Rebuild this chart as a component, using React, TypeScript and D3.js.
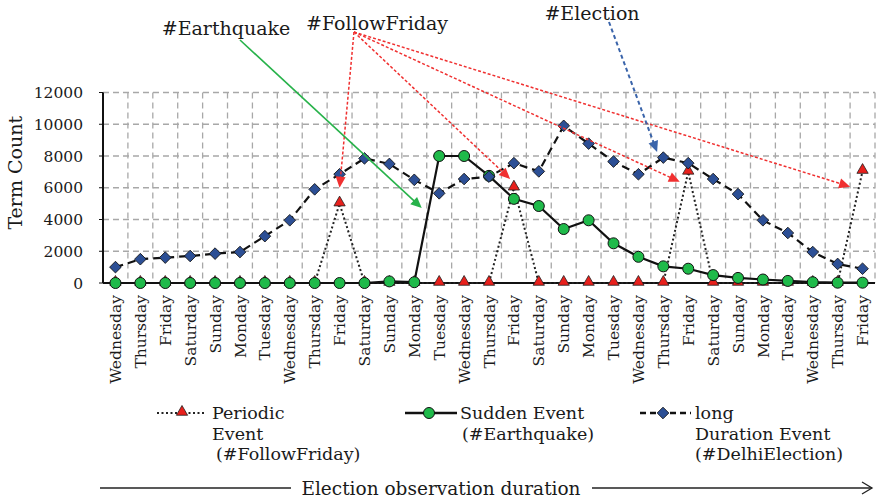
import React from "react";
import * as d3 from "d3";

const days = [
  "Wednesday", "Thursday", "Friday", "Saturday", "Sunday", "Monday", "Tuesday",
  "Wednesday", "Thursday", "Friday", "Saturday", "Sunday", "Monday", "Tuesday",
  "Wednesday", "Thursday", "Friday", "Saturday", "Sunday", "Monday", "Tuesday",
  "Wednesday", "Thursday", "Friday", "Saturday", "Sunday", "Monday", "Tuesday",
  "Wednesday", "Thursday", "Friday",
];

const periodic = [
  0, 0, 0, 0, 0, 0, 0, 0, 0, 5000, 0, 0, 0, 0, 0, 0, 6000, 0, 0, 0, 0, 0, 0, 7000,
  0, 0, 0, 0, 0, 0, 7050,
];

const sudden = [
  0, 0, 0, 0, 0, 0, 0, 0, 0, 0, 0, 100, 50, 8000, 8000, 6750, 5300, 4850, 3400,
  3950, 2500, 1650, 1050, 900, 500, 320, 220, 130, 50, 20, 20,
];

const longDur = [
  1000, 1500, 1600, 1700, 1850, 1950, 2950, 3950, 5900, 6850, 7850, 7500, 6500,
  5650, 6550, 6700, 7550, 7030, 9900, 8780, 7650, 6850, 7900, 7550, 6550, 5600,
  3950, 3150, 1950, 1200, 900,
];

const yTicks = [0, 2000, 4000, 6000, 8000, 10000, 12000];

// annotation labels and arrow targets (target: [category position, value])
const labels = [
  { text: "#Earthquake", x: 226, y: 35 },
  { text: "#FollowFriday", x: 377, y: 30 },
  { text: "#Election", x: 592, y: 20 },
];

const redTargets: [number, number][] = [
  [9, 6000],
  [15.85, 6550],
  [22.66, 6380],
  [29.5, 6070],
];
const greenTarget: [number, number] = [12.3, 4720];
const blueTarget: [number, number] = [21.75, 8250];

const W = 876;
const H = 501;
const left = 103;
const right = 875;
const top = 92.5;
const bottom = 283;
const FONT = "'DejaVu Serif', serif";

export default function App() {
  const x = d3
    .scaleBand<number>()
    .domain(days.map((_, i) => i))
    .range([left, right])
    .paddingInner(0)
    .paddingOuter(0);
  const bw = x.bandwidth();
  const cx = (i: number) => (x(i) as number) + bw / 2;
  const xc = d3.scaleLinear().domain([0, 1]).range([cx(0), cx(1)]);
  const y = d3.scaleLinear().domain([0, 12000]).range([bottom, top]);

  const line = d3
    .line<number>()
    .x((_, i) => cx(i))
    .y((d) => y(d));

  const triangle = d3.symbol().type(d3.symbolTriangle).size(55)() as string;
  const diamond = d3.symbol().type(d3.symbolSquare).size(68)() as string;

  const arrowHead = (
    x1: number,
    y1: number,
    x2: number,
    y2: number,
    len: number,
    wid: number
  ) => {
    const a = Math.atan2(y2 - y1, x2 - x1);
    const bx = x2 - len * Math.cos(a);
    const by = y2 - len * Math.sin(a);
    const px = -Math.sin(a) * wid;
    const py = Math.cos(a) * wid;
    return `M${x2},${y2}L${bx + px},${by + py}L${bx - px},${by - py}Z`;
  };

  const redOrigin = [354, 32];
  const greenOrigin = [240, 40];
  const blueOrigin = [609, 22];

  const shorten = (x1: number, y1: number, x2: number, y2: number, d: number) => {
    const a = Math.atan2(y2 - y1, x2 - x1);
    return [x2 - d * Math.cos(a), y2 - d * Math.sin(a)];
  };

  return (
    <svg
      width={W}
      height={H}
      style={{ position: "absolute", left: 0, top: 0, background: "#fff" }}
      fontFamily={FONT}
    >
      <rect width={W} height={H} fill="#fff" />
      {yTicks.slice(1).map((t) => (
        <line
          key={"h" + t}
          x1={left}
          x2={right}
          y1={y(t)}
          y2={y(t)}
          stroke="#a8a8a8"
          strokeWidth={1.3}
          strokeDasharray="6,4"
        />
      ))}
      {days.map((_, i) => (
        <line
          key={"v" + i}
          x1={(x(i) as number) + bw}
          x2={(x(i) as number) + bw}
          y1={top}
          y2={bottom}
          stroke="#a8a8a8"
          strokeWidth={1.3}
          strokeDasharray="6,4"
        />
      ))}
      <line x1={left} x2={left} y1={top} y2={bottom} stroke="#111" strokeWidth={2} />
      <line x1={left} x2={right} y1={bottom} y2={bottom} stroke="#111" strokeWidth={2} />
      {yTicks.map((t) => (
        <g key={"yt" + t}>
          <line x1={left - 4} x2={left} y1={y(t)} y2={y(t)} stroke="#111" strokeWidth={1} />
          <text x={83} y={y(t)} dy="0.36em" textAnchor="end" fontSize={15.5} fill="#1a1a1a">
            {t}
          </text>
        </g>
      ))}
      <text
        transform={`translate(22,${(top + bottom) / 2 - 15}) rotate(-90)`}
        textAnchor="middle"
        fontSize={19}
        fill="#1a1a1a"
      >
        Term Count
      </text>
      {days.map((d, i) => (
        <text
          key={"xl" + i}
          transform={`translate(${cx(i)},${bottom + 12}) rotate(-90)`}
          textAnchor="end"
          dy="0.36em"
          fontSize={15.5}
          fill="#1a1a1a"
        >
          {d}
        </text>
      ))}

      <path d={line(longDur) as string} fill="none" stroke="#111" strokeWidth={2.2} strokeDasharray="8,5" />
      <path d={line(periodic) as string} fill="none" stroke="#222" strokeWidth={2} strokeDasharray="2,2.5" />
      <path d={line(sudden) as string} fill="none" stroke="#111" strokeWidth={2.2} />

      {periodic.map((v, i) => (
        <path
          key={"tr" + i}
          d={triangle}
          transform={`translate(${cx(i)},${y(v) - 1})`}
          fill="#e8201c"
          stroke="#222"
          strokeWidth={0.8}
        />
      ))}
      {sudden.map((v, i) => (
        <circle key={"ci" + i} cx={cx(i)} cy={y(v)} r={5.5} fill="#1fba4a" stroke="#111" strokeWidth={1} />
      ))}
      {longDur.map((v, i) => (
        <path
          key={"di" + i}
          d={diamond}
          transform={`translate(${cx(i)},${y(v)}) rotate(45)`}
          fill="#2c4f95"
          stroke="#111"
          strokeWidth={0.8}
        />
      ))}

      {labels.map((l) => (
        <text key={l.text} x={l.x} y={l.y} textAnchor="middle" fontSize={19} fill="#1a1a1a">
          {l.text}
        </text>
      ))}

      {redTargets.map((t, k) => {
        const tx = xc(t[0]);
        const ty = y(t[1]);
        const [sx, sy] = shorten(redOrigin[0], redOrigin[1], tx, ty, 9);
        return (
          <g key={"ra" + k}>
            <line
              x1={redOrigin[0]}
              y1={redOrigin[1]}
              x2={sx}
              y2={sy}
              stroke="#f03030"
              strokeWidth={1.5}
              strokeDasharray="3,2"
            />
            <path d={arrowHead(redOrigin[0], redOrigin[1], tx, ty, 11, 5)} fill="#f03030" />
          </g>
        );
      })}
      {(() => {
        const tx = xc(greenTarget[0]);
        const ty = y(greenTarget[1]);
        const [sx, sy] = shorten(greenOrigin[0], greenOrigin[1], tx, ty, 9);
        return (
          <g>
            <line x1={greenOrigin[0]} y1={greenOrigin[1]} x2={sx} y2={sy} stroke="#27b24a" strokeWidth={1.6} />
            <path d={arrowHead(greenOrigin[0], greenOrigin[1], tx, ty, 11, 5)} fill="#27b24a" />
          </g>
        );
      })()}
      {(() => {
        const tx = xc(blueTarget[0]);
        const ty = y(blueTarget[1]);
        const [sx, sy] = shorten(blueOrigin[0], blueOrigin[1], tx, ty, 9);
        return (
          <g>
            <line
              x1={blueOrigin[0]}
              y1={blueOrigin[1]}
              x2={sx}
              y2={sy}
              stroke="#3a64aa"
              strokeWidth={2}
              strokeDasharray="4,3"
            />
            <path d={arrowHead(blueOrigin[0], blueOrigin[1], tx, ty, 11, 5)} fill="#3a64aa" />
          </g>
        );
      })()}

      <g fontSize={17.5} fill="#1a1a1a">
        <line x1={157} x2={204} y1={413} y2={413} stroke="#222" strokeWidth={2} strokeDasharray="2,2.5" />
        <path d={triangle} transform="translate(182,412)" fill="#e8201c" stroke="#222" strokeWidth={0.8} />
        <text x={212} y={419}>Periodic</text>
        <text x={212} y={440}>Event</text>
        <text x={216} y={460}>(#FollowFriday)</text>

        <line x1={405} x2={457} y1={413} y2={413} stroke="#111" strokeWidth={2.5} />
        <circle cx={429} cy={413} r={5.5} fill="#1fba4a" stroke="#111" strokeWidth={1} />
        <text x={460} y={419}>Sudden Event</text>
        <text x={462} y={440}>(#Earthquake)</text>

        <line x1={640} x2={691} y1={413} y2={413} stroke="#111" strokeWidth={2.5} strokeDasharray="6,4" />
        <path d={diamond} transform="translate(663,413) rotate(45)" fill="#2c4f95" stroke="#111" strokeWidth={0.8} />
        <text x={695} y={419}>long</text>
        <text x={695} y={440}>Duration Event</text>
        <text x={695} y={460}>(#DelhiElection)</text>
      </g>

      <line x1={100} x2={291} y1={488} y2={488} stroke="#222" strokeWidth={1.3} />
      <text x={441} y={495} textAnchor="middle" fontSize={18.5} fill="#1a1a1a">
        Election observation duration
      </text>
      <line x1={592} x2={872} y1={488} y2={488} stroke="#222" strokeWidth={1.3} />
      <path d="M862,482 L872,488 L862,494" fill="none" stroke="#222" strokeWidth={1.3} />
    </svg>
  );
}
